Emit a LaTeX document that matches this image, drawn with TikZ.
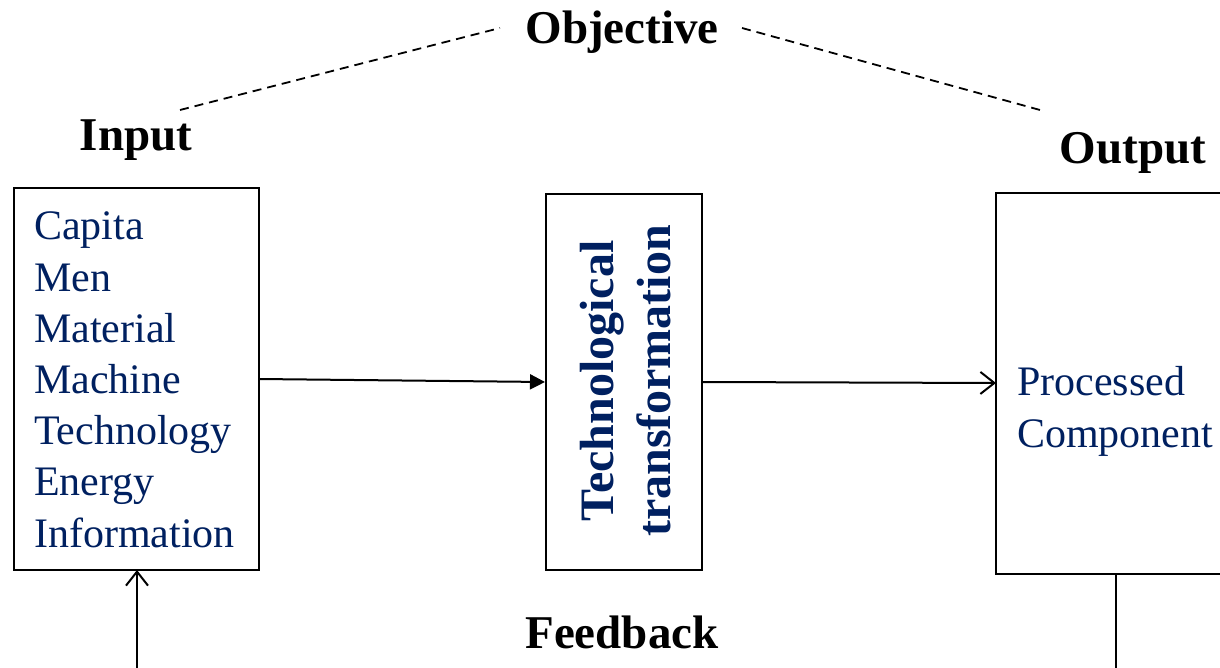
\documentclass[tikz,border=0pt]{standalone}
\usepackage{fontspec}
\setmainfont{Liberation Serif}
\usetikzlibrary{arrows.meta}
\definecolor{navy}{HTML}{002060}
\begin{document}
\begin{tikzpicture}[x=1pt,y=-1pt,
  boxstyle/.style={draw=black,line width=2pt,fill=none},
  lbl/.style={font=\fontsize{47}{56}\selectfont\bfseries,inner sep=0pt},
  bluetext/.style={text=navy,font=\fontsize{42}{51.2}\selectfont,align=left,inner sep=0pt},
  conn/.style={line width=2pt},
  dashline/.style={line width=1.8pt,dash pattern=on 9pt off 6pt}]
\useasboundingbox (0,0) rectangle (1220,668);
% boxes
\draw[boxstyle] (14,188) rectangle (259,570);
\node[boxstyle,minimum width=156pt,minimum height=376pt,inner sep=0pt,anchor=north west] (tech) at (545,193) {};
\draw[boxstyle] (1235,193) -- (996,193) -- (996,574) -- (1235,574);
\coordinate (outL) at (996,383);
\coordinate (outB) at (1116,574);
\coordinate (inR) at (259,379);
\coordinate (inB) at (137,570);
% texts
\node[bluetext,anchor=base west] (inText) at (34,547) {Capita\\Men\\Material\\Machine\\Technology\\Energy\\Information};
\node[bluetext,anchor=base west] (outText) at (1017,447) {Processed\\Component};
\node[text=navy,font=\fontsize{48}{57}\selectfont\bfseries,align=center,rotate=90,inner sep=0pt] (techText) at (626,381) {Technological\\transformation};
\node[lbl] (obj) at (622,32) {Objective};
\node[lbl] (inp) at (136,140) {Input};
\node[lbl] (outp) at (1133,153) {Output};
\node[lbl] (fb) at (622,632) {Feedback};
% connectors
\coordinate (dA) at (180,110);
\coordinate (dB) at (1040,110);
\coordinate (dC) at (500,28);
\coordinate (dD) at (742,28);
\draw[dashline] (dA) -- (dC);
\draw[dashline] (dD) -- (dB);
\draw[conn,-{Triangle[length=15pt,width=15pt]}] (inR) -- (tech.west);
\draw[conn,-{Straight Barb[length=14pt,width=22pt,line width=2pt]}] (tech.east) -- (outL);
\coordinate (fbStart) at (137,668);
\draw[conn,-{Straight Barb[length=14pt,width=22pt,line width=2pt]}] (fbStart) -- (inB);
\coordinate (outEnd) at (1116,668);
\draw[conn] (outB) -- (outEnd);
\end{tikzpicture}
\end{document}
